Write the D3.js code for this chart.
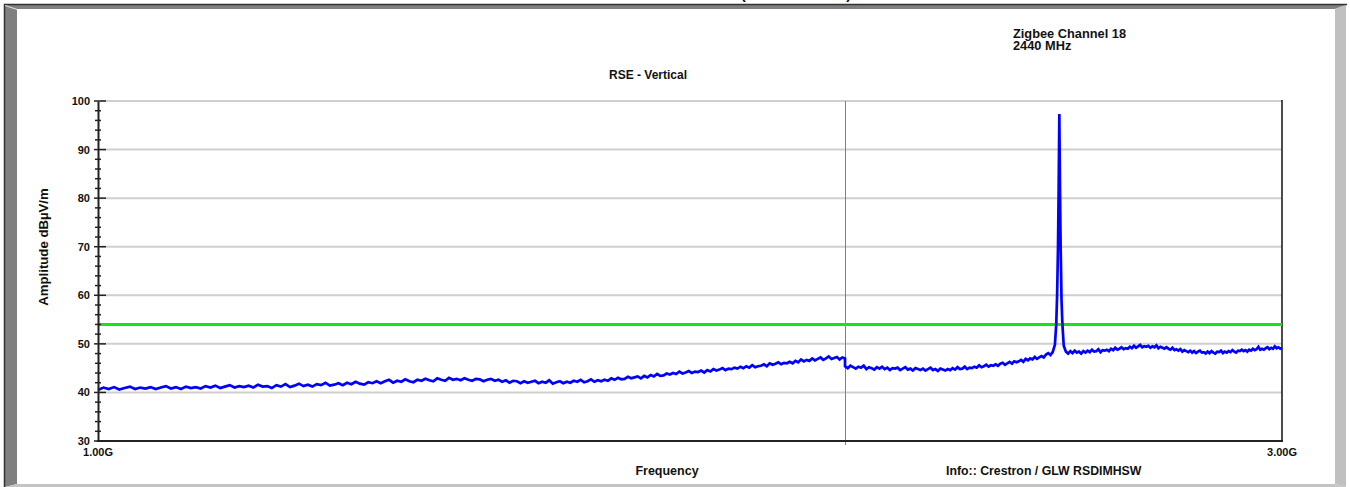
<!DOCTYPE html>
<html>
<head>
<meta charset="utf-8">
<script src="https://cdn.jsdelivr.net/npm/d3@7"></script>
<style>
  html, body { margin: 0; padding: 0; background: #fff; }
  svg { display: block; font-family: "Liberation Sans", Arial, sans-serif; font-weight: bold; }
</style>
</head>
<body>
<svg id="chart" width="1350" height="487"></svg>
<script>
// sweep 1: 1.00 - 2.00 GHz, 5 MHz per point (dBuV/m)
const sweep1StartMHz = 1000;
const sweep1StepMHz = 5;
const sweep1Level = [
  40.5, 41.0, 40.7, 41.1, 40.6, 40.9, 41.2, 40.7, 41.0, 40.8,
  41.1, 40.7, 41.0, 41.3, 40.8, 41.1, 40.7, 41.2, 40.9, 41.1,
  40.8, 41.3, 41.0, 41.4, 40.9, 41.2, 41.5, 41.0, 41.3, 41.1,
  41.4, 41.0, 41.6, 41.2, 41.3, 40.9, 41.5, 41.2, 41.7, 41.1,
  41.4, 41.8, 41.3, 41.6, 41.2, 41.7, 41.5, 42.0, 41.4, 41.6,
  41.9, 41.5, 42.0, 41.7, 42.2, 41.8, 41.6, 42.1, 41.9, 42.3,
  41.9, 42.3, 42.6, 42.0, 42.4, 42.2, 42.7, 42.3, 42.1, 42.6,
  42.4, 42.8, 42.5, 42.3, 42.9, 42.6, 42.4, 43.0, 42.6, 42.8,
  42.5, 42.9, 42.6, 42.4, 42.8, 42.7, 42.3, 42.6, 42.8, 42.4,
  42.6, 42.2, 42.5, 42.0, 42.4, 42.3, 41.9, 42.3, 42.0, 42.2,
  42.4, 41.9, 42.2, 42.0, 42.5, 41.8, 42.1, 42.3, 41.9, 42.2,
  42.0, 42.4, 42.2, 42.6, 42.1, 42.3, 42.7, 42.2, 42.5, 42.3,
  42.6, 42.4, 42.9, 42.6, 43.0, 42.7, 42.8, 43.2, 42.9, 43.1,
  43.3, 42.9, 43.4, 43.1, 43.6, 43.3, 43.8, 43.4, 43.5, 43.9,
  43.7, 44.0, 43.8, 44.3, 43.9, 44.1, 44.4, 44.0, 44.3, 44.2,
  44.5, 44.1, 44.6, 44.3, 44.8, 44.5, 44.7, 45.0, 44.6, 44.9,
  44.8, 45.1, 44.9, 45.3, 45.0, 45.4, 45.1, 45.6, 45.2, 45.4,
  45.5, 45.8, 45.4, 46.0, 45.7, 45.9, 46.2, 45.8, 46.1, 46.0,
  46.3, 46.0, 46.5, 46.2, 46.8, 46.4, 46.7, 46.5, 47.0, 46.6,
  46.9, 47.2, 46.7, 47.0, 47.4, 46.9, 47.1, 47.3, 46.8, 47.2,
  47.0
];

// sweep 2: 2.00 - 3.00 GHz, 5 MHz per point (dBuV/m)
const sweep2StartMHz = 2000;
const sweep2StepMHz = 5;
const sweep2Level = [
  45.4, 45.0, 45.5, 45.2, 44.9, 45.3, 45.1, 45.5, 44.8, 45.2,
  45.0, 44.7, 45.2, 44.9, 45.3, 44.8, 45.1, 44.6, 45.0, 44.9,
  45.1, 44.6, 44.9, 45.2, 44.7, 44.9, 44.5, 45.0, 44.8, 44.6,
  44.9, 44.5, 44.8, 45.1, 44.6, 44.8, 44.4, 44.9, 44.7, 44.5,
  44.8, 44.6, 45.0, 44.7, 45.2, 44.8, 44.9, 45.3, 44.8, 45.1,
  45.0, 45.3, 45.1, 45.6, 45.2, 45.4, 45.7, 45.3, 45.6, 45.5,
  45.8, 45.5, 45.9, 46.1, 45.7, 46.0, 46.3, 45.9, 46.4, 46.2,
  46.4, 46.7, 46.3, 46.9, 46.6, 47.0, 46.8, 47.3, 46.9, 47.2,
  47.5, 47.2, 47.8, 48.1, 47.7, 48.3, 49.8, 60.0, 97.3, 59.0,
  49.6, 48.4, 48.0, 48.5, 48.1, 48.6, 48.2, 48.4, 48.0, 48.5,
  48.2, 48.6, 48.3, 48.8, 48.4, 48.5, 48.9, 48.3, 48.7, 48.6,
  48.8, 48.5, 49.0, 48.7, 49.2, 48.8, 49.0, 49.3, 48.9, 49.1,
  49.0, 49.4, 49.1, 49.6, 49.2, 49.5, 49.8, 49.3, 49.5, 49.4,
  49.6, 49.2, 49.5, 49.3, 49.7, 49.1, 49.4, 49.2, 49.0, 49.3,
  49.0, 48.8, 49.2, 48.7, 48.9, 48.6, 48.9, 48.4, 48.7, 48.5,
  48.3, 48.6, 48.2, 48.5, 48.1, 48.4, 48.6, 48.2, 48.3, 48.0,
  48.4, 48.1, 48.5, 48.2, 48.0, 48.4, 48.3, 48.6, 48.1, 48.4,
  48.2, 48.5, 48.3, 48.7, 48.4, 48.2, 48.6, 48.5, 48.8, 48.5,
  48.7, 48.4, 48.8, 48.6, 49.0, 48.7, 48.9, 49.4, 48.8, 49.0,
  48.8, 49.1, 49.3, 48.9, 49.2, 49.0, 49.5, 49.1, 49.3, 49.0,
  49.2
];

// extra points on the carrier (Zigbee ch 18, 2440 MHz)
const peakFreqMHz = [2433, 2437, 2438.5, 2441.5, 2443, 2447];
const peakLevel   = [54, 70, 82, 82, 70, 54];

const limitLevel = 54;

const yTicks = [30, 40, 50, 60, 70, 80, 90, 100];
const yMinorTicks = [32, 34, 36, 38, 42, 44, 46, 48, 52, 54, 56, 58, 62, 64, 66, 68,
                     72, 74, 76, 78, 82, 84, 86, 88, 92, 94, 96, 98];
const xTickValues = [1000, 3000];
const xTickLabels = ["1.00G", "3.00G"];
const xGridValues = [2000];

const title = "RSE - Vertical";
const noteLines = ["Zigbee Channel 18", "2440 MHz"];
const xTitle = "Frequency";
const yTitle = "Amplitude dBµV/m";
const infoText = "Info:: Crestron / GLW RSDIMHSW";

// ---- build trace
let trace = [];
sweep1Level.forEach((v, i) => trace.push({ f: sweep1StartMHz + i * sweep1StepMHz, v: v }));
sweep2Level.forEach((v, i) => trace.push({ f: sweep2StartMHz + i * sweep2StepMHz, v: v }));
peakFreqMHz.forEach((f, i) => trace.push({ f: f, v: peakLevel[i] }));
trace.sort((a, b) => a.f - b.f); // stable, keeps the 2 GHz step in order

const svg = d3.select("#chart");

// ---- outer frame (bevelled panel)
const frame = svg.append("g");
frame.append("polygon").attr("points", "5,5 1346,5 1335,9 17,9").attr("fill", "#808080");
frame.append("polygon").attr("points", "5,5 17,9 17,484 5,487").attr("fill", "#808080");
frame.append("polygon").attr("points", "1346,5 1346,487 1335,484 1335,9").attr("fill", "#c0c0c0");
frame.append("polygon").attr("points", "5,487 17,484 1335,484 1346,487").attr("fill", "#c4c4c4");
frame.append("line").attr("x1", 4).attr("x2", 1347).attr("y1", 4.5).attr("y2", 4.5)
  .attr("stroke", "#333").attr("stroke-width", 1.5);
frame.append("line").attr("x1", 4.5).attr("x2", 4.5).attr("y1", 4).attr("y2", 487)
  .attr("stroke", "#333").attr("stroke-width", 1.5);
frame.append("line").attr("x1", 5).attr("x2", 17).attr("y1", 5.5).attr("y2", 9.5)
  .attr("stroke", "#e0e0e0").attr("stroke-width", 1);

// bottom of the page title, cut off by the top edge as in the original
frame.append("text").attr("x", 741).attr("y", -1).attr("font-size", 14).text("(");
frame.append("text").attr("x", 851).attr("y", -1).attr("font-size", 14).attr("text-anchor", "end").text(")");

// ---- scales
const x = d3.scaleLog().domain([1000, 3000]).range([98, 1282]);
const y = d3.scaleLinear().domain([30, 100]).range([441, 101]);

const plot = svg.append("g");

// horizontal grid
plot.append("g").selectAll("line").data(yTicks.filter(d => d > 30)).join("line")
  .attr("x1", 100).attr("x2", 1282)
  .attr("y1", d => y(d)).attr("y2", d => y(d))
  .attr("stroke", "#cfcfcf").attr("stroke-width", 2);

// vertical grid at 2 GHz
plot.append("g").selectAll("line").data(xGridValues).join("line")
  .attr("x1", d => Math.round(x(d)) + 0.5).attr("x2", d => Math.round(x(d)) + 0.5)
  .attr("y1", 101).attr("y2", 445)
  .attr("stroke", "#808080").attr("stroke-width", 1);

// right border
plot.append("line").attr("x1", 1282).attr("x2", 1282).attr("y1", 100).attr("y2", 442)
  .attr("stroke", "#111").attr("stroke-width", 1.5);

// limit line
plot.append("line")
  .attr("x1", x(1000)).attr("x2", x(3000))
  .attr("y1", y(limitLevel)).attr("y2", y(limitLevel))
  .attr("stroke", "#14e614").attr("stroke-width", 3);

// measured trace
const line = d3.line().x(d => x(d.f)).y(d => y(d.v));
plot.append("path").datum(trace)
  .attr("d", line)
  .attr("fill", "none")
  .attr("stroke", "#0000ff")
  .attr("stroke-width", 2.7)
  .attr("stroke-linejoin", "miter")
  .attr("stroke-miterlimit", 3);

// bottom axis line
plot.append("line").attr("x1", 97).attr("x2", 1283).attr("y1", 441).attr("y2", 441)
  .attr("stroke", "#222").attr("stroke-width", 2);

// left axis
const yAxis = d3.axisLeft(y).tickValues(yTicks).tickSize(0).tickPadding(8);
const yAx = svg.append("g").attr("transform", "translate(98,0)").call(yAxis);
yAx.select(".domain").attr("stroke", "#222").attr("stroke-width", 2);
yAx.selectAll("text").attr("font-size", 11).attr("font-family", "Liberation Sans, Arial, sans-serif")
  .attr("font-weight", "bold").attr("fill", "#111");

yAx.selectAll("line.major").data(yTicks).join("line").attr("class", "major")
  .attr("x1", -4).attr("x2", 8)
  .attr("y1", d => y(d)).attr("y2", d => y(d))
  .attr("stroke", "#222").attr("stroke-width", 1.5);
yAx.selectAll("line.minor").data(yMinorTicks).join("line").attr("class", "minor")
  .attr("x1", -3).attr("x2", 3)
  .attr("y1", d => y(d)).attr("y2", d => y(d))
  .attr("stroke", "#222").attr("stroke-width", 1.5);

// x tick labels (only end points)
svg.append("g").selectAll("text").data(xTickValues).join("text")
  .attr("x", d => x(d)).attr("y", 456)
  .attr("text-anchor", "middle").attr("font-size", 11).attr("fill", "#111")
  .text((d, i) => xTickLabels[i]);

// ---- titles and notes
svg.append("text").attr("x", 648).attr("y", 79).attr("text-anchor", "middle")
  .attr("font-size", 12).attr("fill", "#111").text(title);

svg.append("g").selectAll("text").data(noteLines).join("text")
  .attr("x", 1013).attr("y", (d, i) => 37.5 + i * 12.5)
  .attr("font-size", 12.8).attr("fill", "#111").text(d => d);

svg.append("text").attr("x", 667).attr("y", 475).attr("text-anchor", "middle")
  .attr("font-size", 12.5).attr("fill", "#111").text(xTitle);

svg.append("text").attr("x", 946).attr("y", 475)
  .attr("font-size", 12.3).attr("fill", "#111").text(infoText);

svg.append("text").attr("transform", "translate(48,247) rotate(-90)")
  .attr("text-anchor", "middle").attr("font-size", 13.2).attr("fill", "#111").text(yTitle);
</script>
</body>
</html>
